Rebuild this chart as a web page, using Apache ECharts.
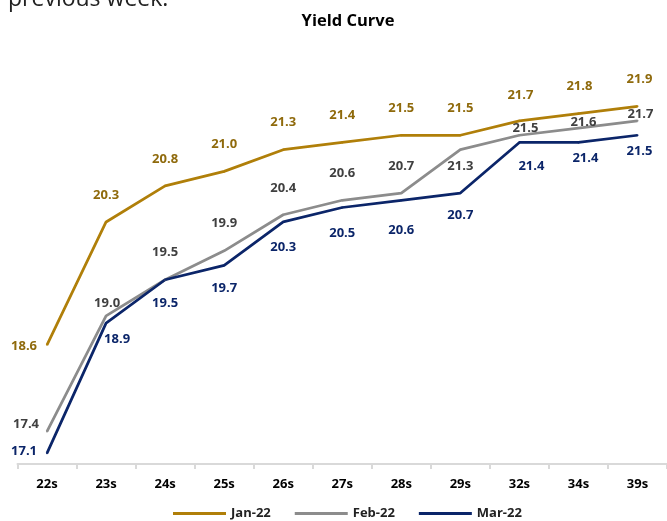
<!DOCTYPE html>
<html>
<head>
<meta charset="utf-8">
<script src="https://cdn.jsdelivr.net/npm/echarts@6/dist/echarts.min.js"></script>
<style>
  html, body { margin: 0; padding: 0; background: #fff; }
  #main { width: 667px; height: 521px; }
</style>
</head>
<body>
<div id="main"></div>
<script>
// tenors and yields (%)
var tenors = ['22s', '23s', '24s', '25s', '26s', '27s', '28s', '29s', '32s', '34s', '39s'];
var jan22 = [18.6, 20.3, 20.8, 21.0, 21.3, 21.4, 21.5, 21.5, 21.7, 21.8, 21.9];
var feb22 = [17.4, 19.0, 19.5, 19.9, 20.4, 20.6, 20.7, 21.3, 21.5, 21.6, 21.7];
var mar22 = [17.1, 18.9, 19.5, 19.7, 20.3, 20.5, 20.6, 20.7, 21.4, 21.4, 21.5];

// where each value label sits relative to its point (dx, dy)
var janLabelPos = [[-23, 2], [0, -27], [0, -27], [0, -27], [0, -27], [0, -27], [0, -27], [0, -27], [1, -26], [1, -27], [2, -27]];
var febLabelPos = [[-21, -7], [1, -13], [0, -27], [0, -28], [0, -26], [0, -27], [0, -27], [0, 17], [6, -7], [5, -6], [3, -7]];
var marLabelPos = [[-23, -2], [11, 16], [0, 24], [0, 23], [0, 25], [0, 26], [0, 30], [0, 22], [12, 24], [7, 16], [2, 16]];

var FONT = '"Open Sans", sans-serif';

function buildSeries(name, values, offsets, lineColor, labelColor) {
	var data = [];
	for (var i = 0; i < values.length; i++) {
		data.push({
			value: values[i],
			label: { offset: offsets[i] }
		});
	}
	return {
		name: name,
		type: 'line',
		data: data,
		symbol: 'circle',
		symbolSize: 2,
		lineStyle: { color: lineColor, width: 2.75 },
		itemStyle: { color: lineColor },
		label: {
			show: true,
			position: 'inside',
			color: labelColor,
			fontFamily: FONT,
			fontWeight: 'bold',
			fontSize: 13,
			formatter: function (p) { return p.value.toFixed(1); }
		},
		emphasis: { disabled: true },
		animation: false
	};
}

var myChart = echarts.init(document.getElementById('main'));

var option = {
	backgroundColor: '#fff',
	title: {
		text: 'Yield Curve',
		left: 343,
		top: 8,
		textAlign: 'center',
		textStyle: { fontFamily: FONT, fontWeight: 'bold', fontSize: 16.5, color: '#000' }
	},
	graphic: [{
		type: 'text',
		x: 8,
		y: -12,
		style: { text: 'previous week.', font: '23px "Open Sans", sans-serif', fill: '#222' }
	}],
	legend: {
		left: 168,
		top: 502,
		icon: 'rect',
		itemWidth: 53,
		itemHeight: 3,
		itemGap: 24,
		textStyle: { fontFamily: FONT, fontWeight: 'bold', fontSize: 13, color: '#222' },
		data: ['Jan-22', 'Feb-22', 'Mar-22']
	},
	grid: { left: 17.5, width: 660, top: 63, height: 401 },
	xAxis: {
		type: 'category',
		data: tenors,
		boundaryGap: true,
		axisLine: { lineStyle: { color: '#D9D9D9', width: 2 } },
		axisTick: { show: true, length: 5, lineStyle: { color: '#D9D9D9', width: 2 } },
		axisLabel: { color: '#000', fontFamily: FONT, fontWeight: 'bold', fontSize: 13, margin: 14 }
	},
	yAxis: {
		type: 'value',
		min: 16.95,
		max: 22.5,
		show: false,
		splitLine: { show: false }
	},
	series: [
		buildSeries('Jan-22', jan22, janLabelPos, '#B07F09', '#8F6A0C'),
		buildSeries('Feb-22', feb22, febLabelPos, '#8C8C8C', '#404040'),
		buildSeries('Mar-22', mar22, marLabelPos, '#0B2569', '#0B2569')
	]
};

myChart.setOption(option);
</script>
</body>
</html>
